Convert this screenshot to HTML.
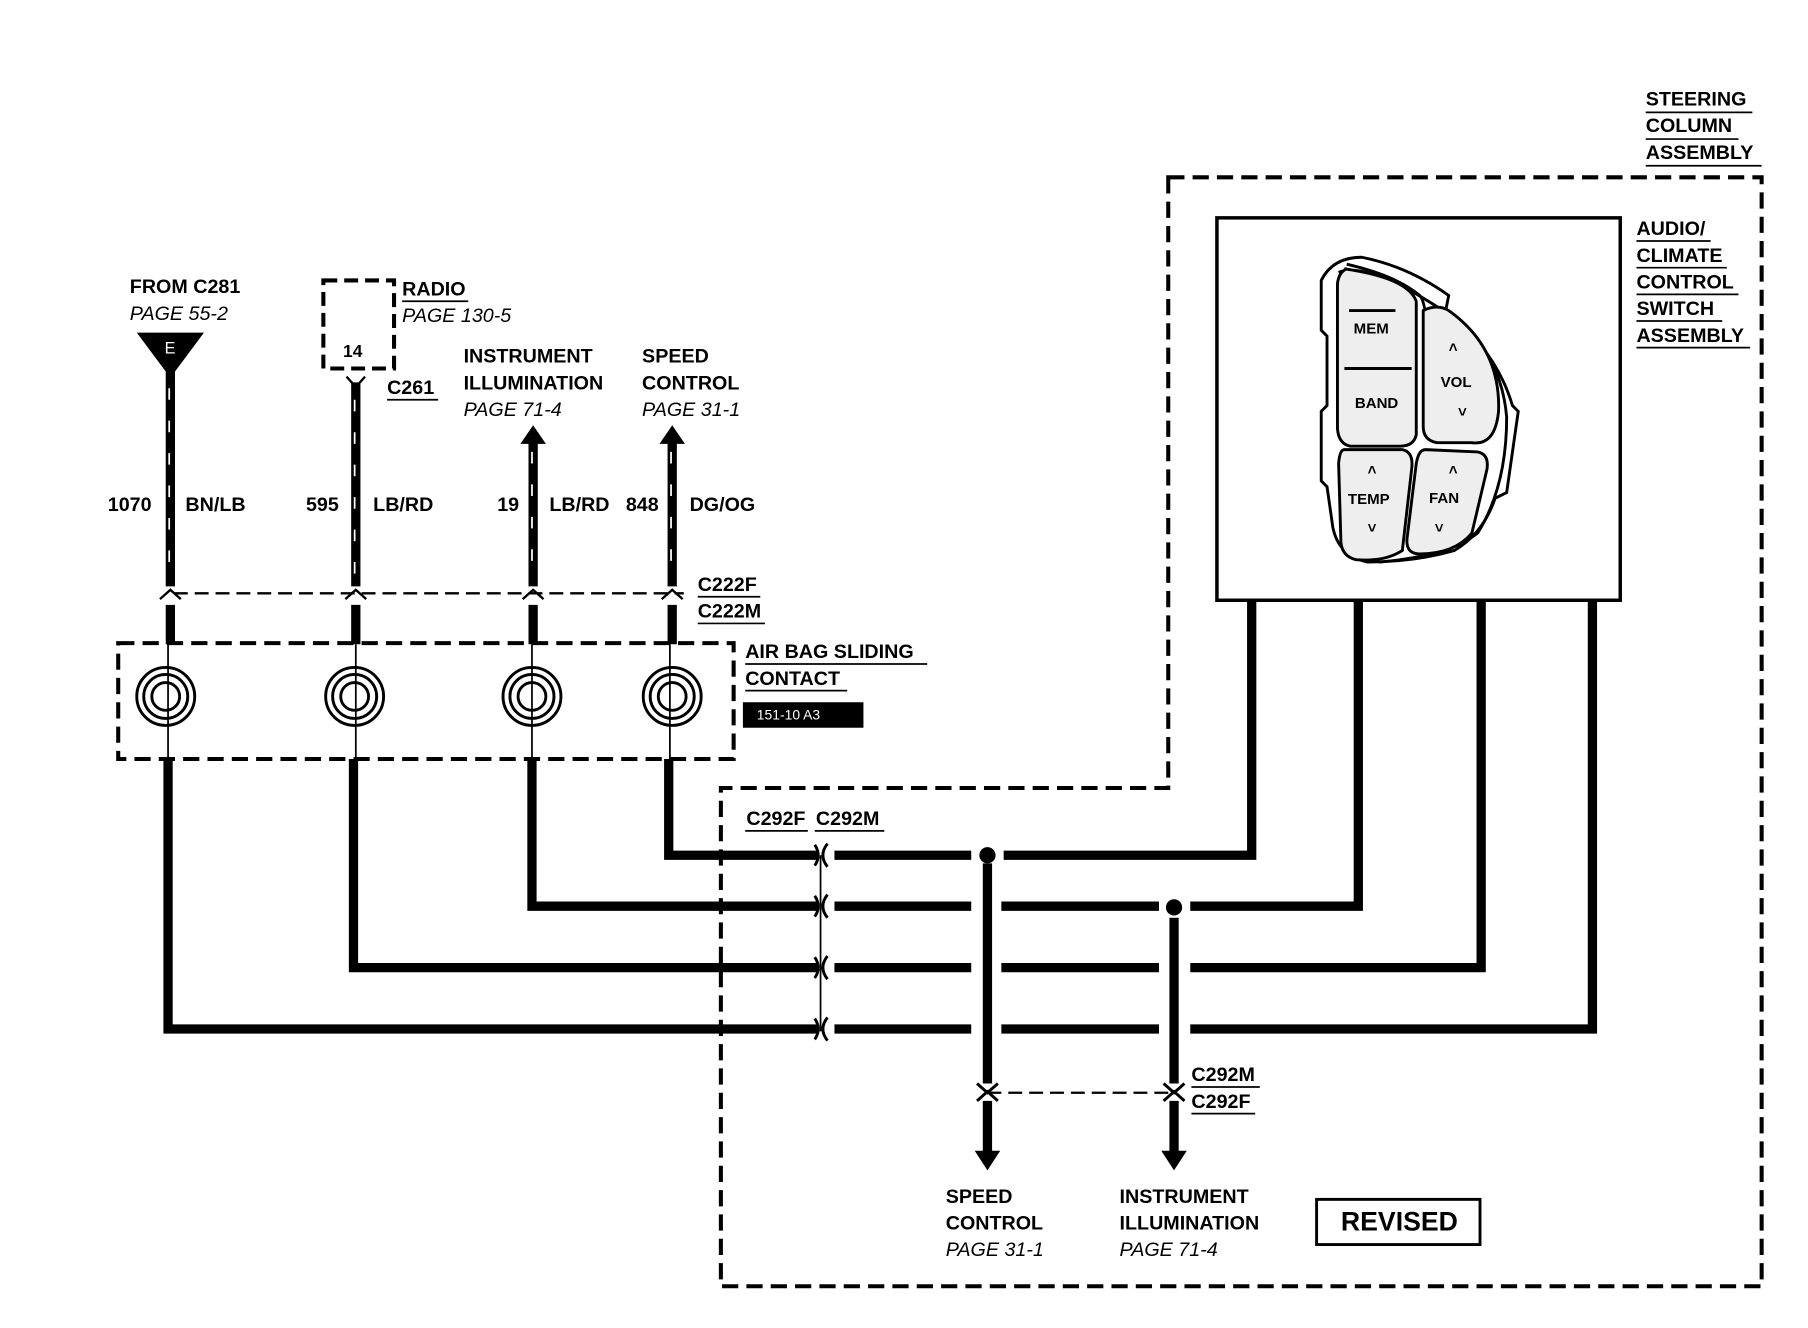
<!DOCTYPE html>
<html><head><style>
html,body{margin:0;padding:0;background:#fff}
svg{display:block}
text{font-family:"Liberation Sans",sans-serif;font-weight:bold;font-size:17px;fill:#000}
.i{font-style:italic;font-weight:normal}
.s text{font-size:13px}
</style></head><body>
<svg width="1808" height="1328" viewBox="0 0 1560 1146" preserveAspectRatio="none" xmlns="http://www.w3.org/2000/svg">
<rect width="1560" height="1146" fill="#fff"/>
<g fill="none" stroke="#000">
<path d="M1008,153 H1520 V1110 H622 V680 H1008 Z" stroke-width="3.5" stroke-dasharray="14,7"/>
<rect x="1050" y="188" width="348" height="330" stroke-width="3"/>
<rect x="102" y="555" width="531" height="100" stroke-width="3.5" stroke-dasharray="14,7"/>
<rect x="279" y="242" width="61" height="76" stroke-width="3.5" stroke-dasharray="12,6"/>
<path d="M150,512 H590" stroke-width="2" stroke-dasharray="12,6"/>
<path d="M852,943 H1013" stroke-width="2" stroke-dasharray="12,6"/>
<g stroke-width="8">
<path d="M147,320 V506"/><path d="M307,330 V506"/><path d="M460,380 V506"/><path d="M580,380 V506"/>
<path d="M147,522 V556"/><path d="M307,522 V556"/><path d="M460,522 V556"/><path d="M580,522 V556"/>
</g>
<g stroke="#fff" stroke-width="1.5" stroke-dasharray="10,18">
<path d="M146,335 V500"/><path d="M306,345 V500"/><path d="M459,390 V500"/><path d="M579,390 V500"/>
</g>
<g stroke-width="1.5"><path d="M145,556 V655"/><path d="M307,556 V655"/><path d="M459,556 V655"/><path d="M578,556 V655"/></g>
<g stroke-width="2.5">
<circle cx="143" cy="601" r="25"/><circle cx="143" cy="601" r="19"/><circle cx="143" cy="601" r="12"/>
<circle cx="306" cy="601" r="25"/><circle cx="306" cy="601" r="19"/><circle cx="306" cy="601" r="12"/>
<circle cx="459" cy="601" r="25"/><circle cx="459" cy="601" r="19"/><circle cx="459" cy="601" r="12"/>
<circle cx="580" cy="601" r="25"/><circle cx="580" cy="601" r="19"/><circle cx="580" cy="601" r="12"/>
</g>
<g stroke-width="2">
<path d="M138,517 L147,509 L156,517"/><path d="M298,517 L307,509 L316,517"/><path d="M451,517 L460,509 L469,517"/><path d="M571,517 L580,509 L589,517"/>
<path d="M299,325 L307,334 L315,325"/>
</g>
<g stroke-width="8" stroke-linejoin="miter">
<path d="M1080,518 V738 H866"/><path d="M838,738 H720"/><path d="M577,655 V738 H706"/>
<path d="M1172,518 V782 H1027"/><path d="M1000,782 H864"/><path d="M838,782 H720"/><path d="M459,655 V782 H706"/>
<path d="M1278,518 V835 H1027"/><path d="M1000,835 H864"/><path d="M838,835 H720"/><path d="M305,655 V835 H706"/>
<path d="M1374,518 V888 H1027"/><path d="M1000,888 H864"/><path d="M838,888 H720"/><path d="M145,655 V888 H706"/>
<path d="M852,745 V935"/><path d="M1013,792 V935"/>
<path d="M852,950 V995"/><path d="M1013,950 V995"/>
</g>
<path d="M708,738 V890" stroke-width="1.5"/>
<g stroke-width="2.5">
<path d="M714,728 Q706,738 714,748"/><path d="M703,729 Q709,738 703,747"/>
<path d="M714,772 Q706,782 714,792"/><path d="M703,773 Q709,782 703,791"/>
<path d="M714,825 Q706,835 714,845"/><path d="M703,826 Q709,835 703,844"/>
<path d="M714,878 Q706,888 714,898"/><path d="M703,879 Q709,888 703,897"/>
<path d="M843,935 L852,943 L861,935"/><path d="M843,950 L852,942 L861,950"/>
<path d="M1004,935 L1013,943 L1022,935"/><path d="M1004,950 L1013,942 L1022,950"/>
</g>
<g stroke-width="2.5">
<path d="M1140,242 Q1150,222 1175,222 Q1215,230 1250,255 L1247,270 Q1290,300 1305,350 L1310,355 L1300,425 L1290,430 Q1280,460 1255,475 Q1220,485 1180,485 Q1155,480 1150,455 L1145,420 L1140,415 L1140,355 L1145,350 L1145,290 L1140,285 Z"/>
<path d="M1155,235 Q1180,225 1245,268 Q1295,300 1300,360 Q1300,420 1275,460 Q1250,480 1190,485"/>
<path d="M1162,228 Q1205,238 1225,255 Q1230,260 1232,290 L1232,300"/>
<path d="M1160,232 Q1215,240 1222,260 L1222,375 Q1220,385 1208,385 L1165,385 Q1155,383 1154,370 L1154,245 Q1155,235 1162,232 Z" fill="#eee"/>
<path d="M1228,268 Q1240,262 1250,268 Q1295,300 1293,355 Q1290,385 1270,382 L1240,382 Q1228,380 1228,368 Z" fill="#eee"/>
<path d="M1160,388 L1210,388 Q1220,390 1218,405 L1210,475 Q1195,485 1170,483 Q1158,480 1157,468 L1155,400 Q1156,388 1160,388 Z" fill="#eee"/>
<path d="M1230,388 L1275,390 Q1285,392 1283,405 L1270,460 Q1255,478 1225,478 Q1213,478 1214,465 L1222,400 Q1224,388 1230,388 Z" fill="#eee"/>
<path d="M1164,268 H1204 M1160,318 H1218"/>
</g>
</g>
<polygon points="118,287 176,287 147,326" fill="#000"/>
<polygon points="449,383 460,367 471,383" fill="#000"/>
<polygon points="569,383 580,367 591,383" fill="#000"/>
<polygon points="841,993 852,1010 863,993" fill="#000"/>
<polygon points="1002,993 1013,1010 1024,993" fill="#000"/>
<circle cx="852" cy="738" r="7" fill="#000"/>
<circle cx="1013" cy="783" r="7" fill="#000"/>
<rect x="641" y="606" width="104" height="22" fill="#000"/>
<rect x="1136" y="1035" width="141" height="39" fill="none" stroke="#000" stroke-width="2.5"/>
<g stroke="#000" stroke-width="1.5">
<path d="M1420,97 H1512 M1420,120 H1500 M1420,143 H1520"/>
<path d="M1412,208 H1476 M1412,231 H1490 M1412,254 H1500 M1412,277 H1486 M1412,300 H1510"/>
<path d="M347,260 H404"/><path d="M334,345 H378"/>
<path d="M602,515 H656 M602,538 H660"/>
<path d="M643,573 H800 M643,596 H731"/>
<path d="M643,717 H697 M703,717 H763"/>
<path d="M1028,938 H1087 M1028,961 H1083"/>
</g>
<text x="1420" y="91">STEERING</text>
<text x="1420" y="114">COLUMN</text>
<text x="1420" y="137">ASSEMBLY</text>
<text x="1412" y="203">AUDIO/</text>
<text x="1412" y="226">CLIMATE</text>
<text x="1412" y="249">CONTROL</text>
<text x="1412" y="272">SWITCH</text>
<text x="1412" y="295">ASSEMBLY</text>
<text x="112" y="253">FROM C281</text>
<text x="112" y="276" class="i">PAGE 55-2</text>
<text x="142" y="305" style="fill:#fff;font-weight:normal;font-size:14px">E</text>
<text x="296" y="308" style="font-size:15px">14</text>
<text x="347" y="255">RADIO</text>
<text x="347" y="278" class="i">PAGE 130-5</text>
<text x="334" y="340">C261</text>
<text x="400" y="313">INSTRUMENT</text>
<text x="400" y="336">ILLUMINATION</text>
<text x="400" y="359" class="i">PAGE 71-4</text>
<text x="554" y="313">SPEED</text>
<text x="554" y="336">CONTROL</text>
<text x="554" y="359" class="i">PAGE 31-1</text>
<text x="93" y="441">1070</text><text x="160" y="441">BN/LB</text>
<text x="264" y="441">595</text><text x="322" y="441">LB/RD</text>
<text x="429" y="441">19</text><text x="474" y="441">LB/RD</text>
<text x="540" y="441">848</text><text x="595" y="441">DG/OG</text>
<text x="602" y="510">C222F</text>
<text x="602" y="533">C222M</text>
<text x="643" y="568">AIR BAG SLIDING</text>
<text x="643" y="591">CONTACT</text>
<text x="653" y="621" style="fill:#fff;font-weight:normal;font-size:12px">151-10 A3</text>
<text x="644" y="712">C292F</text><text x="704" y="712">C292M</text>
<text x="1028" y="933">C292M</text>
<text x="1028" y="956">C292F</text>
<text x="816" y="1038">SPEED</text>
<text x="816" y="1061">CONTROL</text>
<text x="816" y="1084" class="i">PAGE 31-1</text>
<text x="966" y="1038">INSTRUMENT</text>
<text x="966" y="1061">ILLUMINATION</text>
<text x="966" y="1084" class="i">PAGE 71-4</text>
<text x="1157" y="1062" style="font-size:23px">REVISED</text>
<g class="s">
<text x="1168" y="288">MEM</text>
<text x="1169" y="352">BAND</text>
<text x="1243" y="334">VOL</text>
<text x="1163" y="435">TEMP</text>
<text x="1233" y="434">FAN</text>
<text x="1250" y="304">˄</text><text x="1258" y="360">˅</text>
<text x="1180" y="410">˄</text><text x="1180" y="460">˅</text>
<text x="1250" y="410">˄</text><text x="1238" y="460">˅</text>
</g>
</svg>
</body></html>
